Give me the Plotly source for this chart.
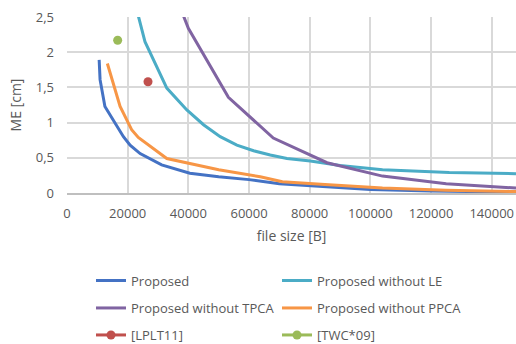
import plotly.graph_objects as go

# Rate-distortion curves: mean error vs. compressed file size
prop_x = [10600, 10900, 12500, 15800, 18600, 20800, 24100, 31200, 40500, 50000, 60000, 70000, 85000, 100000, 120000, 148000]
prop_y = [1.89, 1.61, 1.23, 1.00, 0.80, 0.68, 0.56, 0.40, 0.28, 0.23, 0.19, 0.13, 0.09, 0.05, 0.03, 0.01]

no_le_x = [23000, 25700, 32900, 39500, 45000, 50500, 56000, 61500, 67000, 72500, 80200, 90000, 104000, 126000, 148000]
no_le_y = [2.60, 2.15, 1.49, 1.18, 0.97, 0.80, 0.68, 0.60, 0.54, 0.49, 0.455, 0.39, 0.33, 0.29, 0.275]

no_tpca_x = [38000, 40000, 53200, 68000, 85700, 104000, 125000, 148000]
no_tpca_y = [2.56, 2.34, 1.36, 0.78, 0.43, 0.24, 0.13, 0.07]

no_ppca_x = [13300, 15300, 17500, 21300, 23500, 32900, 40000, 50000, 63700, 71000, 85000, 104000, 125000, 148000]
no_ppca_y = [1.84, 1.56, 1.23, 0.90, 0.79, 0.49, 0.42, 0.33, 0.23, 0.16, 0.12, 0.07, 0.04, 0.02]

lplt_x = [26700]
lplt_y = [1.58]
twc_x = [16700]
twc_y = [2.17]

x_ticks = [0, 20000, 40000, 60000, 80000, 100000, 120000, 140000]
y_ticks = [0, 0.5, 1, 1.5, 2, 2.5]
y_tick_text = ["0", "0,5", "1", "1,5", "2", "2,5"]

FONT = "Open Sans"
GREY = "#595959"
W, H = 516, 344

fig = go.Figure()
line_w = 3
fig.add_trace(go.Scatter(x=prop_x, y=prop_y, mode="lines", name="Proposed",
                         line=dict(color="#4472C4", width=line_w), legend="legend"))
fig.add_trace(go.Scatter(x=no_le_x, y=no_le_y, mode="lines", name="Proposed without LE",
                         line=dict(color="#4BACC6", width=line_w), legend="legend"))
fig.add_trace(go.Scatter(x=no_tpca_x, y=no_tpca_y, mode="lines", name="Proposed without TPCA",
                         line=dict(color="#8064A2", width=line_w), legend="legend2"))
fig.add_trace(go.Scatter(x=no_ppca_x, y=no_ppca_y, mode="lines", name="Proposed without PPCA",
                         line=dict(color="#F79646", width=line_w), legend="legend2"))
fig.add_trace(go.Scatter(x=lplt_x, y=lplt_y, mode="lines+markers", name="[LPLT11]",
                         line=dict(color="#C0504D", width=line_w),
                         marker=dict(color="#C0504D", size=9), legend="legend3"))
fig.add_trace(go.Scatter(x=twc_x, y=twc_y, mode="lines+markers", name="[TWC*09]",
                         line=dict(color="#9BBB59", width=line_w),
                         marker=dict(color="#9BBB59", size=9), legend="legend3"))


def legend_row(center_px):
    # one horizontal legend row, two fixed-width columns
    return dict(
        orientation="h",
        xref="container", yref="container",
        x=91 / W, y=1 - center_px / H, xanchor="left", yanchor="middle",
        entrywidth=141, entrywidthmode="pixels",
        font=dict(family=FONT, size=13, color=GREY),
        bgcolor="rgba(0,0,0,0)",
    )


fig.update_layout(
    width=W, height=H,
    margin=dict(l=67, r=0, t=17, b=151),
    paper_bgcolor="white", plot_bgcolor="white",
    font=dict(family=FONT, size=13, color=GREY),
    showlegend=True,
    legend=legend_row(280.5),
    legend2=legend_row(308),
    legend3=legend_row(335),
    xaxis=dict(
        range=[0, 148000], tickvals=x_ticks, ticktext=[str(v) for v in x_ticks],
        showgrid=True, gridcolor="#D9D9D9", gridwidth=1.5,
        showline=True, linecolor="#BFBFBF", linewidth=1.5,
        zeroline=False, ticks="", ticklabelstandoff=8,
        title=dict(text="file size [B]", standoff=10, font=dict(size=14, color=GREY)),
    ),
    yaxis=dict(
        range=[0, 2.5], tickvals=y_ticks, ticktext=y_tick_text,
        showgrid=True, gridcolor="#D9D9D9", gridwidth=1.5,
        showline=False, zeroline=False, ticks="", ticklabelstandoff=12,
        title=dict(text="ME [cm]", standoff=10, font=dict(size=14, color=GREY)),
    ),
)

fig.write_html("out.html")
